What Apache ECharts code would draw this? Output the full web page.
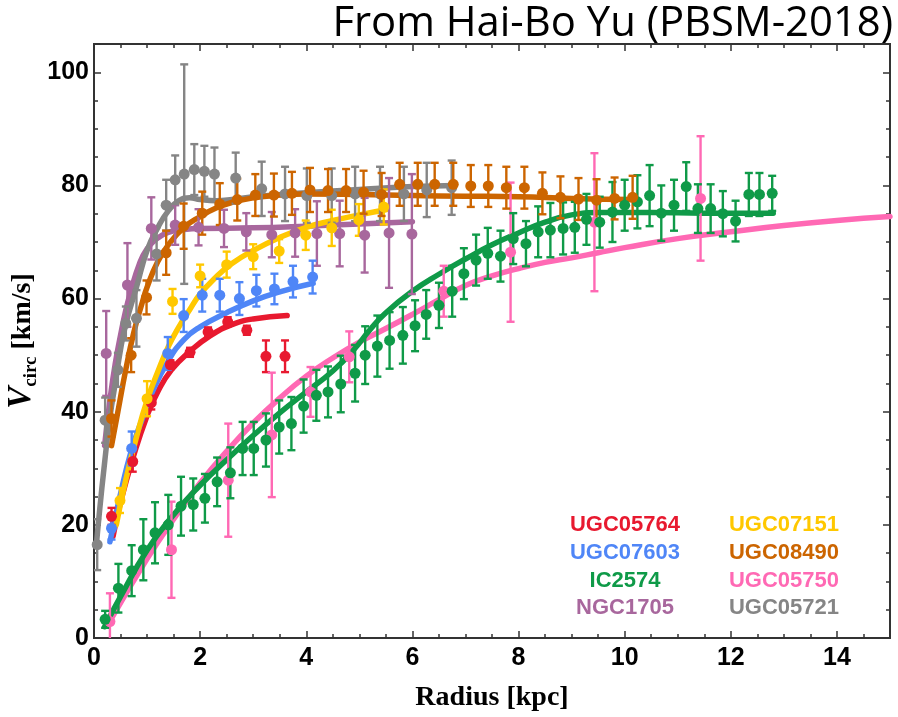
<!DOCTYPE html>
<html><head><meta charset="utf-8">
<script src="https://cdn.jsdelivr.net/npm/echarts@6/dist/echarts.min.js"></script>
<style>html,body{margin:0;padding:0;background:#fff}#c{width:898px;height:717px}</style>
</head><body><div id="c"></div>
<script>
// ---- data: [radius kpc, Vcirc km/s, error] ----
const UGC05764_pts = [[0.33,21.5,1.5],[0.73,31.2,1.8],[1.08,41.6,1.2],[1.44,48.3,0.8],[1.81,50.5,0.8],[2.15,54.1,0.8],[2.52,55.9,0.8],[2.88,54.4,0.8],[3.24,49.8,2.8],[3.60,49.8,2.8]];
const UGC05764_fit = [[0.36,18],[0.5,24],[0.74,32],[1.0,39.3],[1.2,43.5],[1.46,47.4],[1.8,50.6],[2.2,53.5],[2.6,55.4],[3.0,56.4],[3.64,57.0]];

const UGC07603_pts = [[0.33,19.4,2],[0.71,33.5,3],[1.39,50.3,2.9],[1.69,57.0,2.9],[2.04,60.6,2.9],[2.37,60.6,2.9],[2.74,60.0,2.9],[3.06,61.4,2.8],[3.40,61.7,2.7],[3.75,63.0,2.8],[4.12,63.8,2.9]];
const UGC07603_fit = [[0.3,17],[0.5,25.5],[0.7,33],[0.9,38.5],[1.1,43.5],[1.4,49],[1.7,52.8],[2.0,55],[2.5,57.5],[3.0,59.6],[3.5,61.2],[4.13,62.7]];

const IC2574_pts = [[0.21,3.3,1.5],[0.46,8.8,4.3],[0.71,11.9,4.5],[0.93,15.6,5.4],[1.15,18.6,5.4],[1.40,20.0,5.3],[1.64,23.3,5.2],[1.87,23.6,4.6],[2.09,24.7,4.3],[2.32,27.6,4.3],[2.57,29.2,4.5],[2.80,33.5,4.7],[3.01,33.5,4.7],[3.24,35.0,4.7],[3.49,37.3,4.7],[3.72,37.9,4.7],[3.95,41.0,4.7],[4.19,42.9,4.5],[4.41,43.5,4.5],[4.65,44.9,5],[4.92,46.8,5],[5.11,50.0,5.1],[5.34,51.6,5.4],[5.57,52.6,5],[5.82,53.5,5],[6.05,55.2,4.5],[6.26,57.2,4.3],[6.50,58.8,4],[6.75,61.3,4.5],[6.97,64.4,4.5],[7.20,66.8,4.5],[7.42,68.0,4.5],[7.66,67.5,4.5],[7.90,70.6,4.5],[8.14,69.7,4],[8.37,71.8,4.5],[8.60,72.1,4.8],[8.84,72.4,4.6],[9.06,72.6,4.5],[9.28,74.0,4.5],[9.53,73.5,4.5],[9.77,75.3,5.3],[10.00,76.5,4.5],[10.24,77.1,4.7],[10.47,78.2,5.4],[10.69,75.1,4.9],[10.93,76.5,4.5],[11.16,79.8,4.3],[11.38,75.9,4.3],[11.62,75.9,4.3],[11.85,75.0,4],[12.09,73.7,3.6],[12.34,78.4,3.8],[12.54,78.4,3.8],[12.78,78.6,3.1]];
const IC2574_fit = [[0.2,2],[0.5,7.3],[1.0,15.5],[1.5,21.8],[2.0,27],[2.5,31.5],[3.0,35.8],[3.5,39.8],[4.0,43.5],[4.5,47.2],[4.9,51],[5.2,54.5],[5.5,57.5],[6.0,61.3],[6.5,64.3],[7.0,67],[7.5,69.5],[8.0,71.6],[8.5,73.5],[9.0,74.8],[9.5,75.2],[10.5,75.2],[11.5,75.1],[12.8,75.1]];

const NGC1705_pts = [[0.23,50.3,7.5],[0.63,62.4,7.4],[1.08,72.4,5.5],[1.53,73.0,3.5],[1.97,72.6,3.2],[2.45,72.4,3.3],[2.87,71.8,3.3],[3.35,71.3,4],[3.79,71.6,4.2],[4.20,71.5,5.7],[4.63,71.5,5.8],[5.10,71.2,6.6],[5.56,71.6,9.7],[5.99,71.4,10.6]];
const NGC1705_fit = [[0.2,34],[0.3,42],[0.4,48.5],[0.5,53.5],[0.6,58],[0.7,61.5],[0.85,66],[1.0,68.8],[1.2,70.7],[1.4,71.7],[1.7,72.2],[2.0,72.4],[3.0,72.5],[4.0,72.8],[5.0,73.2],[6.0,73.6]];

const UGC07151_pts = [[0.49,24.3,2.2],[1.00,42.3,3.1],[1.48,59.5,2.2],[2.00,64.0,2],[2.50,66.0,2.3],[3.00,67.4,2.2],[3.49,68.4,2.1],[3.99,71.2,2.6],[4.48,72.5,3.2],[4.99,73.9,2.8],[5.46,76.2,3.1]];
const UGC07151_fit = [[0.42,20],[0.6,28],[0.8,35.5],[1.0,42],[1.2,47],[1.4,51.5],[1.6,55],[1.8,58],[2.0,60.8],[2.3,63.8],[2.6,66.2],[3.0,68.5],[3.5,70.8],[4.0,72.6],[4.5,73.8],[5.0,74.8],[5.5,75.7]];

const UGC08490_pts = [[0.33,38.8,3.2],[0.70,50.0,3],[0.99,60.2,3],[1.36,68.1,3.9],[1.69,72.8,4],[2.04,75.1,3.8],[2.37,76.7,3.7],[2.70,77.5,3.7],[3.04,78.3,3.7],[3.39,78.3,3.8],[3.73,78.6,3.8],[4.07,79.2,3.9],[4.41,79.1,3.8],[4.75,79.1,3.8],[5.08,78.8,3.8],[5.42,78.4,3.8],[5.76,80.2,3.8],[6.10,80.2,3.8],[6.42,80.2,3.8],[6.77,80.2,3.8],[7.10,79.9,3.7],[7.43,79.9,3.7],[7.77,79.6,3.7],[8.11,79.6,3.7],[8.45,78.6,3.7],[8.79,77.9,3.7],[9.13,77.6,3.7],[9.47,77.4,3.7],[9.81,77.7,3.7],[10.15,77.9,3.8]];
const UGC08490_fit = [[0.33,34],[0.45,40],[0.6,47.5],[0.75,54],[0.9,59],[1.0,62],[1.2,66.5],[1.4,69.5],[1.7,72.6],[2.0,74.5],[2.3,76],[2.6,77],[3.0,77.8],[3.5,78.3],[4.0,78.5],[5.0,78.4],[6.0,78.2],[7.0,78.1],[8.0,78],[9.0,77.7],[10.2,77.5]];

const UGC05750_pts = [[0.30,2.9,5],[1.46,15.6,8.5],[2.53,27.9,10],[3.35,35.9,11],[4.08,43.5,4.4],[4.81,49.7,4.5],[6.59,61.3,4.5],[7.85,68.2,12.3],[9.43,73.5,12.2],[11.43,77.7,11]];
const UGC05750_fit = [[0.3,3],[1.0,14],[1.5,21],[2.0,27.4],[2.5,33],[3.0,38],[3.5,42.4],[4.0,46.3],[4.5,49.5],[5.0,52.3],[5.5,54.7],[6.0,57.2],[6.5,59.8],[7.0,62.3],[7.5,64],[8.0,65.3],[8.5,66.4],[9.0,67.2],[9.5,68.1],[10,69],[11,70.6],[12,71.8],[13,72.9],[14,73.8],[15,74.5]];

const UGC05721_pts = [[0.06,16.5,4.5],[0.21,38.5,4],[0.45,47.4,3],[0.60,55.6,3],[0.80,56.5,5],[1.18,67.9,4.7],[1.36,76.5,4.5],[1.53,81.0,4.3],[1.70,82.0,19.4],[1.89,82.8,4.5],[2.08,82.5,4.5],[2.27,82.0,4.7],[2.67,81.3,4.5],[3.16,79.4,4.8],[3.60,78.5,4.8],[4.01,78.2,4.8],[4.48,78.2,4.8],[4.92,78.5,4.8],[5.39,78.5,4.8],[5.84,78.5,4.8],[6.27,79.2,4.8],[6.74,79.6,4.8]];
const UGC05721_fit = [[0.05,17],[0.1,22],[0.2,31],[0.3,39],[0.4,45],[0.5,51],[0.6,55.5],[0.8,62],[1.0,68.5],[1.2,72.5],[1.4,75.5],[1.6,77.3],[1.8,77.8],[2.0,77.5],[2.3,77.3],[2.6,77.5],[3.0,78],[4.0,78.7],[5.0,79.3],[6.0,79.8],[6.8,80]];

const galaxyNames = ['UGC05764','UGC07603','IC2574','NGC1705','UGC07151','UGC08490','UGC05750','UGC05721'];
const xTicks = [0,2,4,6,8,10,12,14];
const yTicks = [0,20,40,60,80,100];

// ---- styles ----
const colors = {
  UGC05764:'#E8192F', UGC07603:'#4F86F7', IC2574:'#0F9A48', NGC1705:'#A8679D',
  UGC07151:'#FFC800', UGC08490:'#CC6500', UGC05750:'#FF69B4', UGC05721:'#858585'
};
const pointSets = {UGC05764:UGC05764_pts, UGC07603:UGC07603_pts, IC2574:IC2574_pts, NGC1705:NGC1705_pts, UGC07151:UGC07151_pts, UGC08490:UGC08490_pts, UGC05750:UGC05750_pts, UGC05721:UGC05721_pts};
const fitSets = {UGC05764:UGC05764_fit, UGC07603:UGC07603_fit, IC2574:IC2574_fit, NGC1705:NGC1705_fit, UGC07151:UGC07151_fit, UGC08490:UGC08490_fit, UGC05750:UGC05750_fit, UGC05721:UGC05721_fit};
const drawOrder = ['NGC1705','UGC05721','UGC05764','UGC07603','UGC07151','UGC05750','IC2574','UGC08490'];

function errRender(color){
  return function(params, api){
    const x = api.value(0), y = api.value(1), e = api.value(2);
    const t = api.coord([x, y + e]), b = api.coord([x, y - e]);
    const cw = 4;
    const st = {stroke: color, lineWidth: 2.4};
    return {type:'group', children:[
      {type:'line', shape:{x1:t[0],y1:t[1],x2:b[0],y2:b[1]}, style:st},
      {type:'line', shape:{x1:t[0]-cw,y1:t[1],x2:t[0]+cw,y2:t[1]}, style:st},
      {type:'line', shape:{x1:b[0]-cw,y1:b[1],x2:b[0]+cw,y2:b[1]}, style:st}
    ]};
  };
}

const series = [];
drawOrder.forEach(n => {
  series.push({type:'line', name:n+' fit', data:fitSets[n], showSymbol:false, smooth:0.5,
    lineStyle:{color:colors[n], width:5.5, cap:'round', join:'round'}, z:2, silent:true, clip:true});
});
drawOrder.forEach(n => {
  series.push({type:'custom', name:n+' err', data:pointSets[n], renderItem:errRender(colors[n]), encode:{x:0,y:1}, z:3, clip:true, silent:true});
  series.push({type:'scatter', name:n, data:pointSets[n], encode:{x:0,y:1}, symbolSize:11, itemStyle:{color:colors[n], opacity:1}, z:4, silent:true});
});

const axisCol = '#333';
function xAx(pos, interval, len, labels){
  return {type:'value', min:0, max:15, interval:interval, position:pos,
    axisLine:{show:true, onZero:false, lineStyle:{color:axisCol, width:2}},
    axisTick:{show:true, inside:true, length:len, lineStyle:{color:axisCol, width:1.5}},
    splitLine:{show:false},
    axisLabel: labels ? {show:true, margin:8, color:'#000', fontSize:25, fontWeight:'bold', fontFamily:'Liberation Sans',
      formatter: v => xTicks.indexOf(v) >= 0 ? String(v) : ''} : {show:false}};
}
function yAx(pos, interval, len, labels){
  return {type:'value', min:0, max:105, interval:interval, position:pos,
    axisLine:{show:true, onZero:false, lineStyle:{color:axisCol, width:2}},
    axisTick:{show:true, inside:true, length:len, lineStyle:{color:axisCol, width:1.5}},
    splitLine:{show:false},
    axisLabel: labels ? {show:true, margin:5, color:'#000', fontSize:25, fontWeight:'bold', fontFamily:'Liberation Sans',
      formatter: v => yTicks.indexOf(v) >= 0 ? String(v) : ''} : {show:false}};
}
const xMain = xAx('bottom', 2, 7, true);
xMain.name = 'Radius [kpc]';
xMain.nameLocation = 'middle';
xMain.nameGap = 46;
xMain.nameTextStyle = {fontFamily:'Liberation Serif', fontWeight:'bold', fontSize:28, color:'#000'};

// measure helper
const cv = document.createElement('canvas').getContext('2d');
function tw(font, s){ cv.font = font; return cv.measureText(s).width; }

// y-axis title (rotated)
const fV = 'italic bold 33px "Liberation Serif"', fS = 'bold 19px "Liberation Serif"', fT = 'bold 28px "Liberation Serif"';
const wV = tw(fV,'V'), wS = tw(fS,'circ'), wSp = tw(fT,' '), wT = tw(fT,'[km/s]');
const tot = wV + wS + wSp + wT;
const x0 = -tot/2;
const yTitle = {type:'group', x:32, y:341, rotation:Math.PI/2, children:[
  {type:'text', x:x0, y:-0.33*33, style:{text:'V', font:fV, fill:'#000', align:'left', verticalAlign:'middle'}},
  {type:'text', x:x0+wV, y:5-0.33*19, style:{text:'circ', font:fS, fill:'#000', align:'left', verticalAlign:'middle'}},
  {type:'text', x:x0+wV+wS+wSp, y:-0.33*28, style:{text:'[km/s]', font:fT, fill:'#000', align:'left', verticalAlign:'middle'}}
]};

// title
const titleText = 'From Hai-Bo Yu (PBSM-2018)';
const tFont0 = '40px "Open Sans"';
const tSize = Math.min(44, 40 * 560 / tw(tFont0, titleText));
const titleG = {type:'text', x:893, y:24, style:{text:titleText, font: tSize.toFixed(1)+'px "Open Sans"', fill:'#000', align:'right', verticalAlign:'middle'}};

// legend-like labels
const legCols = [625, 784], legRows = [525, 553, 581, 608];
const legG = galaxyNames.map((n,i) => ({type:'text', x:legCols[Math.floor(i/4)], y:legRows[i%4],
  style:{text:n, font:'bold 22px "Liberation Sans"', fill:colors[n], align:'center', verticalAlign:'middle'}}));

const chart = echarts.init(document.getElementById('c'), null, {renderer:'canvas'});
chart.setOption({
  animation:false,
  backgroundColor:'#fff',
  grid:{left:94, right:8, top:44, bottom:79, containLabel:false},
  xAxis:[xMain, xAx('bottom',0.5,4,false), xAx('top',2,7,false), xAx('top',0.5,4,false)],
  yAxis:[yAx('left',20,7,true), yAx('left',5,4,false), yAx('right',20,7,false), yAx('right',5,4,false)],
  series: series,
  graphic:[yTitle, titleG].concat(legG)
});
</script></body></html>
